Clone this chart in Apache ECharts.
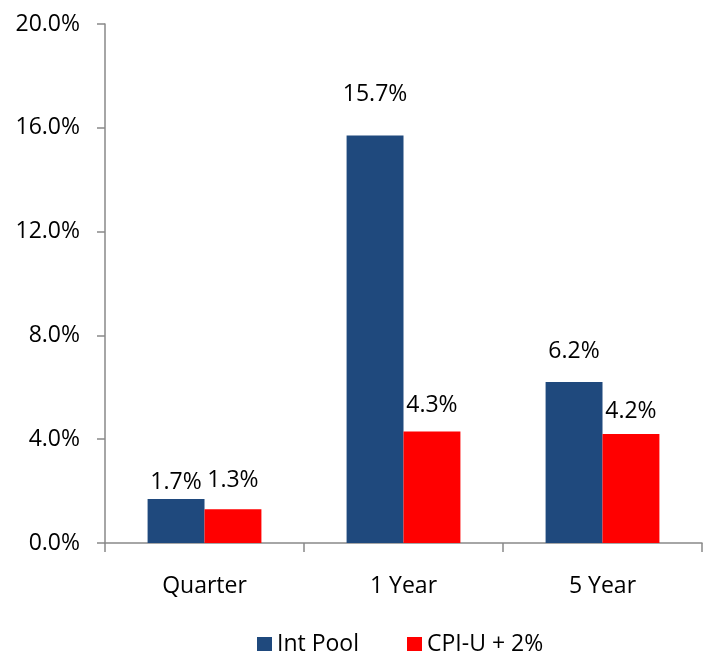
<!doctype html>
<html>
<head>
<meta charset="UTF-8">
<title>Returns</title>
<script src="https://cdn.jsdelivr.net/npm/echarts@6/dist/echarts.min.js"></script>
<style>
  html, body { margin: 0; padding: 0; background: #fff; }
  #main { width: 709px; height: 651px; }
</style>
</head>
<body>
<div id="main"></div>
<script>
// data (percent)
var categories = ['Quarter', '1 Year', '5 Year'];
var intPool = [1.7, 15.7, 6.2];
var cpiU = [1.3, 4.3, 4.2];
var yTicks = { min: 0, max: 20, step: 4 };

// label gaps above bars (Excel put them unevenly)
var intPoolGap = [5, 30, 19];
var cpiGap = [17, 14, 11];

var font = '"Open Sans", sans-serif';
var axisGrey = '#898989';

function withGap(vals, gaps) {
    return vals.map(function (v, i) {
        return { value: v, label: { distance: gaps[i] } };
    });
}

var myChart = echarts.init(document.getElementById('main'));

var option = {
    animation: false,
    textStyle: { fontFamily: font },
    grid: { left: 105, right: 7, top: 24, bottom: 108, containLabel: false },
    legend: {
        data: ['Int Pool', 'CPI-U + 2%'],
        left: 252,
        top: 628,
        itemWidth: 15,
        itemHeight: 15,
        itemGap: 48,
        icon: 'rect',
        textStyle: { fontFamily: font, fontSize: 23, color: '#000', lineHeight: 23 }
    },
    xAxis: {
        type: 'category',
        data: categories,
        axisLine: { lineStyle: { color: axisGrey, width: 1.5 } },
        axisTick: { show: true, length: 9, lineStyle: { color: axisGrey, width: 1.5 } },
        axisLabel: { fontFamily: font, fontSize: 23, color: '#000', margin: 32, lineHeight: 23 }
    },
    yAxis: {
        type: 'value',
        min: yTicks.min,
        max: yTicks.max,
        interval: yTicks.step,
        splitLine: { show: false },
        axisLine: { show: true, lineStyle: { color: axisGrey, width: 1.5 } },
        axisTick: { show: true, length: 8, lineStyle: { color: axisGrey, width: 1.5 } },
        axisLabel: {
            fontFamily: font, fontSize: 23, color: '#000', margin: 25,
            formatter: function (v) { return v.toFixed(1) + '%'; }
        }
    },
    series: [
        {
            name: 'Int Pool',
            type: 'bar',
            barWidth: '28.6%',
            barGap: '0%',
            itemStyle: { color: '#1F497D' },
            label: {
                show: true, position: 'top', color: '#000',
                fontFamily: font, fontSize: 23, lineHeight: 23,
                formatter: function (p) { return p.value.toFixed(1) + '%'; }
            },
            data: withGap(intPool, intPoolGap)
        },
        {
            name: 'CPI-U + 2%',
            type: 'bar',
            barWidth: '28.6%',
            barGap: '0%',
            itemStyle: { color: '#FF0000' },
            label: {
                show: true, position: 'top', color: '#000',
                fontFamily: font, fontSize: 23, lineHeight: 23,
                formatter: function (p) { return p.value.toFixed(1) + '%'; }
            },
            data: withGap(cpiU, cpiGap)
        }
    ]
};

myChart.setOption(option);
</script>
</body>
</html>
